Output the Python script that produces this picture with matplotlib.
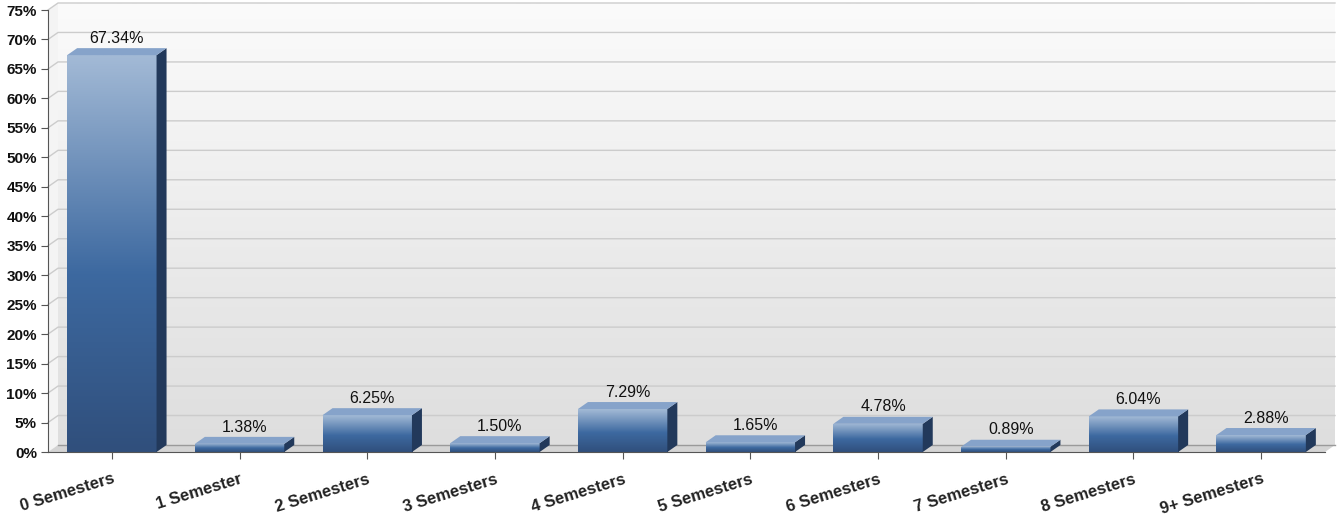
import numpy as np
import matplotlib
matplotlib.use('Agg')
import matplotlib.pyplot as plt
from matplotlib.colors import LinearSegmentedColormap
from matplotlib.patches import Polygon

plt.rcParams['font.family'] = ['Liberation Sans', 'DejaVu Sans']

categories = ['0 Semesters', '1 Semester', '2 Semesters', '3 Semesters', '4 Semesters',
              '5 Semesters', '6 Semesters', '7 Semesters', '8 Semesters', '9+ Semesters']
values = [67.34, 1.38, 6.25, 1.50, 7.29, 1.65, 4.78, 0.89, 6.04, 2.88]
yticks = list(range(0, 80, 5))
ytick_labels = [f'{t}%' for t in yticks]

W, H = 1341, 516
fig = plt.figure(figsize=(W / 100, H / 100), dpi=100)
fig.patch.set_facecolor('white')
ax = fig.add_axes([48 / W, 64 / H, 1277 / W, 442 / H])
ax.set_autoscale_on(False)

x = np.arange(len(categories))
xmin, xmax = -0.5, len(categories) - 0.5
ymax = 75
ax.set_xlim(xmin, xmax)
ax.set_ylim(0, ymax)
dxd = 10 * (xmax - xmin) / 1277
dyd = 7 * ymax / 442
w = 0.70

# back wall gradient
bg = LinearSegmentedColormap.from_list('bg', ['#dedede', '#fbfbfb'])
grad = np.linspace(0, 1, 256).reshape(-1, 1)
ax.imshow(grad, cmap=bg, origin='lower', aspect='auto',
          extent=(xmin + dxd, xmax + dxd, dyd, ymax + dyd), zorder=0, clip_on=False)
ax.set_facecolor('white')

# left wall and floor
ax.add_patch(Polygon([(xmin, 0), (xmin + dxd, dyd), (xmin + dxd, ymax + dyd), (xmin, ymax)],
                     closed=True, fc='#f4f4f4', ec='none', zorder=0.5, clip_on=False))
ax.add_patch(Polygon([(xmin, 0), (xmax, 0), (xmax + dxd, dyd), (xmin + dxd, dyd)],
                     closed=True, fc='#d4d4d4', ec='none', zorder=0.5, clip_on=False))
ax.plot([xmin + dxd, xmax + dxd], [dyd, dyd], color='#9a9a9a', lw=1, zorder=0.6, clip_on=False)

# gridlines on back wall
for t in yticks[1:]:
    ax.plot([xmin, xmin + dxd, xmax + dxd], [t, t + dyd, t + dyd], color='#cccccc', lw=1,
            zorder=1, clip_on=False)

# bars
cmap = LinearSegmentedColormap.from_list('bar', [(0, '#304f7c'), (0.45, '#3d69a0'), (1, '#a3bad6')])
bars = ax.bar(x, values, width=w, color='#3d69a0', zorder=3)
for b, xi, v in zip(bars, x, values):
    im = ax.imshow(grad, cmap=cmap, origin='lower', aspect='auto',
                   extent=(xi - w / 2, xi + w / 2, 0, v), zorder=3.1)
    im.set_clip_path(b)
    ax.add_patch(Polygon([(xi + w / 2, 0), (xi + w / 2 + dxd, dyd), (xi + w / 2 + dxd, v + dyd),
                          (xi + w / 2, v)], closed=True, fc='#22395b', ec='none', zorder=3.2))
    ax.add_patch(Polygon([(xi - w / 2, v), (xi + w / 2, v), (xi + w / 2 + dxd, v + dyd),
                          (xi - w / 2 + dxd, v + dyd)], closed=True, fc='#86a3ca', ec='none', zorder=3.2))
    ax.text(xi + dxd / 2, v + dyd + 0.4, f'{v:.2f}%', ha='center', va='bottom', fontsize=11.5,
            color='#111111', zorder=5)

ax.set_xlim(xmin, xmax)
ax.set_ylim(0, ymax)

# axes styling
for s in ['top', 'right']:
    ax.spines[s].set_visible(False)
for s in ['left', 'bottom']:
    ax.spines[s].set_color('#555555')
    ax.spines[s].set_zorder(4)
ax.set_yticks(yticks)
ax.set_yticklabels(ytick_labels, fontsize=11, fontweight='bold', color='#111111')
ax.set_xticks(x)
ax.set_xticklabels(categories, fontsize=12, fontweight='bold', color='#222222',
                   rotation=17, ha='right', va='top', rotation_mode='anchor')
ax.tick_params(axis='y', length=5, color='#555555', pad=3)
ax.tick_params(axis='x', length=5, color='#555555', pad=9)

fig.savefig('out.png', dpi=100)
